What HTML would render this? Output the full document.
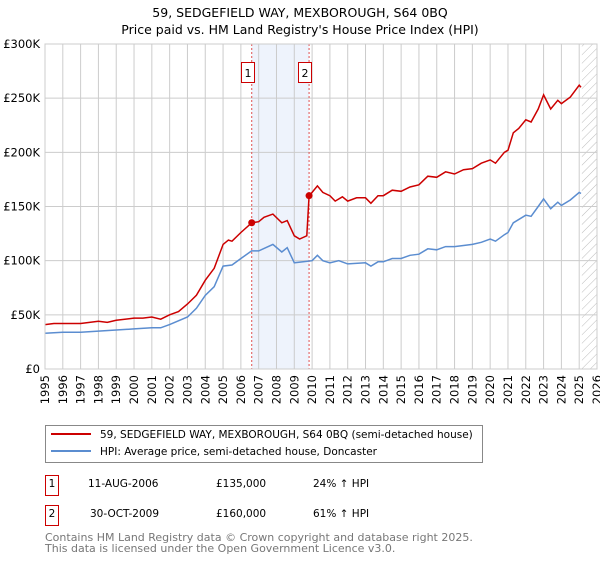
<!DOCTYPE html>
<html><head><meta charset="utf-8"><style>
body{margin:0;background:#fff;font-family:"Liberation Sans","DejaVu Sans",sans-serif;}
svg text{font-family:"DejaVu Sans","Liberation Sans",sans-serif;}
</style></head><body>
<svg id="c" width="600" height="560" xmlns="http://www.w3.org/2000/svg">
<defs><pattern id="hatch" width="6" height="6" patternUnits="userSpaceOnUse" patternTransform="rotate(45)"><line x1="0" y1="0" x2="0" y2="6" stroke="#bbb" stroke-width="1"/></pattern></defs>
<text x="300" y="17" text-anchor="middle" font-size="12.5" fill="#000">59, SEDGEFIELD WAY, MEXBOROUGH, S64 0BQ</text>
<text x="300" y="34" text-anchor="middle" font-size="12.5" fill="#000">Price paid vs. HM Land Registry's House Price Index (HPI)</text>
<g id="plot"></g>
<rect x="45.5" y="425.5" width="437" height="37" fill="#fff" stroke="#888"/>
<line x1="51" y1="434" x2="91" y2="434" stroke="#cc0000" stroke-width="2"/>
<text x="100" y="438" font-size="10.5">59, SEDGEFIELD WAY, MEXBOROUGH, S64 0BQ (semi-detached house)</text>
<line x1="51" y1="451" x2="91" y2="451" stroke="#5b8dd0" stroke-width="2"/>
<text x="100" y="455" font-size="10.5">HPI: Average price, semi-detached house, Doncaster</text>
<g>
<rect x="45.5" y="475.5" width="13" height="20" fill="#fff" stroke="#cc0000"/><text x="52" y="487" text-anchor="middle" font-size="10.5">1</text>
<text x="88" y="487" font-size="10.5">11-AUG-2006</text><text x="216" y="487" font-size="10.5">£135,000</text><text x="313" y="487" font-size="10.5">24% ↑ HPI</text></g>
<g>
<rect x="45.5" y="505.5" width="13" height="20" fill="#fff" stroke="#cc0000"/><text x="52" y="517" text-anchor="middle" font-size="10.5">2</text>
<text x="90" y="517" font-size="10.5">30-OCT-2009</text><text x="216" y="517" font-size="10.5">£160,000</text><text x="313" y="517" font-size="10.5">61% ↑ HPI</text></g>
<text x="45" y="541" font-size="11" fill="#777">Contains HM Land Registry data © Crown copyright and database right 2025.</text>
<text x="45" y="552" font-size="11" fill="#777">This data is licensed under the Open Government Licence v3.0.</text>
</svg>
<script>
const yTicks=[0,50,100,150,200,250,300];
const yTickLabels=["£0","£50K","£100K","£150K","£200K","£250K","£300K"];
const xYears=[1995,1996,1997,1998,1999,2000,2001,2002,2003,2004,2005,2006,2007,2008,2009,2010,2011,2012,2013,2014,2015,2016,2017,2018,2019,2020,2021,2022,2023,2024,2025,2026];
const saleDates=[2006.61,2009.83];
const salePrices=[135,160];
const saleLabels=["1","2"];
const redT=[1995,1995.5,1996,1997,1998,1998.5,1999,2000,2000.5,2001,2001.5,2002,2002.5,2003,2003.5,2004,2004.5,2005,2005.3,2005.5,2006,2006.61,2007,2007.3,2007.8,2008.3,2008.6,2009,2009.3,2009.7,2009.83,2010,2010.3,2010.6,2011,2011.3,2011.7,2012,2012.5,2013,2013.3,2013.7,2014,2014.5,2015,2015.5,2016,2016.5,2017,2017.5,2018,2018.5,2019,2019.5,2020,2020.3,2020.8,2021,2021.3,2021.6,2022,2022.3,2022.7,2023,2023.4,2023.8,2024,2024.5,2025,2025.1];
const redV=[41,42,42,42,44,43,45,47,47,48,46,50,53,60,68,82,93,115,119,118,126,135,136,140,143,135,137,123,120,123,160,163,169,163,160,155,159,155,158,158,153,160,160,165,164,168,170,178,177,182,180,184,185,190,193,190,200,202,218,222,230,228,240,253,240,248,245,251,262,260];
const hpiT=[1995,1996,1997,1998,1999,2000,2001,2001.5,2002,2003,2003.5,2004,2004.5,2005,2005.5,2006,2006.6,2007,2007.8,2008.3,2008.6,2009,2009.5,2010,2010.3,2010.6,2011,2011.5,2012,2013,2013.3,2013.7,2014,2014.5,2015,2015.5,2016,2016.5,2017,2017.5,2018,2018.5,2019,2019.5,2020,2020.3,2020.8,2021,2021.3,2022,2022.3,2022.7,2023,2023.4,2023.8,2024,2024.5,2025,2025.1];
const hpiV=[33,34,34,35,36,37,38,38,41,48,56,68,76,95,96,102,109,109,115,108,112,98,99,100,105,100,98,100,97,98,95,99,99,102,102,105,106,111,110,113,113,114,115,117,120,118,124,126,135,142,141,150,157,148,154,151,156,163,162];
const L=45,R=597,T=44,B=369,x0=1995,x1=2026,yMax=300;
const X=t=>L+(t-x0)/(x1-x0)*(R-L);
const Y=v=>B-v/yMax*(B-T);
const NS="http://www.w3.org/2000/svg";
const g=document.getElementById('plot');
function mk(tag,a){const e=document.createElementNS(NS,tag);for(const k in a)e.setAttribute(k,a[k]);g.appendChild(e);return e;}
let e;
e=mk('rect',{x:X(saleDates[0]),y:T,width:X(saleDates[1])-X(saleDates[0]),height:B-T,fill:'#eef3fc'});


e=mk('rect',{x:X(2025.15),y:T,width:R-X(2025.15),height:B-T,fill:'url(#hatch)'});


xYears.forEach(yr=>{
 e=mk('line',{x1:X(yr),x2:X(yr),y1:T,y2:B,stroke:'#ccc','stroke-width':1});
 
 
 e=mk('text',{x:0,y:0,'font-size':11.5,'text-anchor':'end',transform:`translate(${X(yr)+4},${B+6}) rotate(-90)`});
 e.textContent=yr;
 
 
});
yTicks.forEach((v,i)=>{
 e=mk('line',{x1:L,x2:R,y1:Y(v),y2:Y(v),stroke:'#ccc','stroke-width':1});
 
 
 e=mk('text',{x:L-5,y:Y(v)+4,'font-size':11.5,'text-anchor':'end'});
 e.textContent=yTickLabels[i];
 
 
});
saleDates.forEach((d,i)=>{
 e=mk('line',{x1:X(d),x2:X(d),y1:T,y2:B,stroke:'#e05050','stroke-width':1,'stroke-dasharray':'2,2'});
 
 
 e=mk('rect',{x:Math.round(X(d))-10.5,y:62.5,width:13,height:20,fill:'#fff',stroke:'#cc0000'});
 
 
 e=mk('text',{x:Math.round(X(d))-4,y:77,'font-size':11,'text-anchor':'middle'});
 e.textContent=saleLabels[i];
 
 
});
function pts(t,v){return t.map((tt,i)=>X(tt).toFixed(1)+','+Y(v[i]).toFixed(1)).join(' ');}
e=mk('polyline',{points:pts(hpiT,hpiV),fill:'none',stroke:'#5b8dd0','stroke-width':1.5});


e=mk('polyline',{points:pts(redT,redV),fill:'none',stroke:'#cc0000','stroke-width':1.5});


saleDates.forEach((d,i)=>{
 e=mk('circle',{cx:X(d),cy:Y(salePrices[i]),r:3.5,fill:'#cc0000'});
 
 
});
e=mk('rect',{x:L,y:T,width:R-L,height:B-T,fill:'none',stroke:'#ccc'});


</script>
</body></html>
